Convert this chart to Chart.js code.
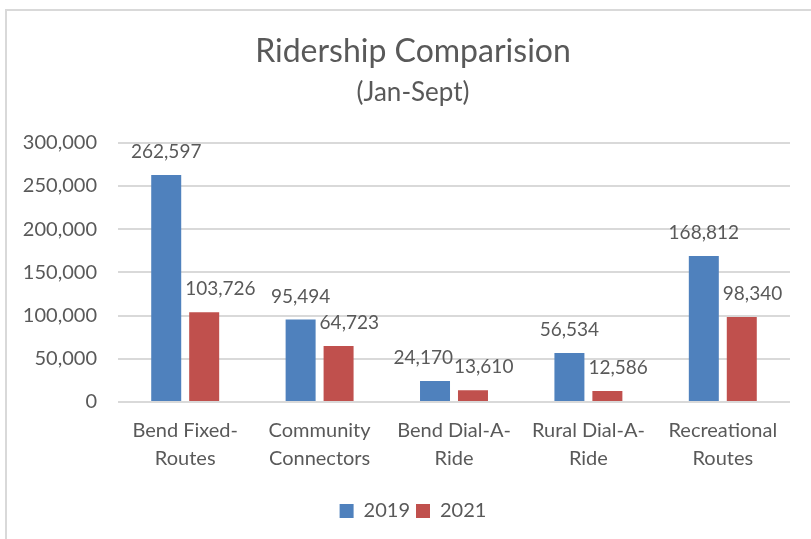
<!DOCTYPE html>
<html>
<head>
<meta charset="utf-8">
<script src="https://cdn.jsdelivr.net/npm/chart.js@4/dist/chart.umd.min.js"></script>
<style>
  html, body { margin: 0; padding: 0; background: #fff; }
  #wrap { position: relative; width: 811px; height: 539px; }
  #frame { position: absolute; left: 5px; top: 9px; right: -4px; bottom: -4px;
           border-top: 2px solid #d9d9d9; border-left: 2px solid #d9d9d9; }
  canvas { position: absolute; left: 0; top: 0; }
</style>
</head>
<body>
<div id="wrap">
  <div id="frame"></div>
  <canvas id="chart" width="811" height="539"></canvas>
</div>
<script>
const categories = [
  ['Bend Fixed-', 'Routes'],
  ['Community', 'Connectors'],
  ['Bend Dial-A-', 'Ride'],
  ['Rural Dial-A-', 'Ride'],
  ['Recreational', 'Routes']
];
const riders2019 = [262597, 95494, 24170, 56534, 168812];
const riders2021 = [103726, 64723, 13610, 12586, 98340];
const yTicks = [0, 50000, 100000, 150000, 200000, 250000, 300000];

const FONT = 'Lato, "Open Sans", sans-serif';
const TEXT = '#595959';

const fmt = (v) => v.toLocaleString('en-US');

// value labels: 2019 centred over the bar, 2021 starting at the bar's left edge,
// blue label pushed left when it would collide with the red one
const valueLabels = {
  id: 'valueLabels',
  afterDatasetsDraw(chart) {
    const ctx = chart.ctx;
    ctx.save();
    ctx.font = '19px ' + FONT;
    ctx.fillStyle = TEXT;
    ctx.textBaseline = 'middle';
    const blue = chart.getDatasetMeta(0).data;
    const red = chart.getDatasetMeta(1).data;
    const ds = chart.data.datasets;
    for (let i = 0; i < blue.length; i++) {
      const b = blue[i], r = red[i];
      const bt = fmt(ds[0].data[i]), rt = fmt(ds[1].data[i]);
      const bw = ctx.measureText(bt).width;
      const by = b.y - 23, ry = r.y - 23;
      const rLeft = r.x - r.width / 2 - 4;
      let bLeft = b.x - bw / 2;
      if (Math.abs(by - ry) < 20 && bLeft + bw > rLeft - 2) bLeft = rLeft - 1 - bw;
      ctx.textAlign = 'left';
      ctx.fillText(bt, bLeft, by);
      ctx.fillText(rt, rLeft, ry);
    }
    ctx.restore();
  }
};

// the Excel chart centres title and legend a bit right of the canvas middle
const shiftBlocks = {
  id: 'shiftBlocks',
  beforeDraw(chart) {
    chart.boxes.forEach(box => {
      if (box.isHorizontal && chart.scales[box.id] === box) return;
      if (box.position === 'top' || box.position === 'bottom') {
        box.left += 18;
        box.right += 18;
      }
    });
  }
};

new Chart(document.getElementById('chart'), {
  type: 'bar',
  data: {
    labels: categories,
    datasets: [
      { label: '2019', data: riders2019, backgroundColor: '#4f81bd' },
      { label: '2021', data: riders2021, backgroundColor: '#c0504d' }
    ]
  },
  options: {
    responsive: false,
    animation: false,
    categoryPercentage: 0.565,
    barPercentage: 0.79,
    layout: { padding: { left: 0, right: 21, top: 0, bottom: 8 } },
    plugins: {
      title: {
        display: true,
        text: 'Ridership Comparision',
        color: TEXT,
        font: { family: FONT, size: 32, weight: 'normal' },
        padding: { top: 32, bottom: 2 }
      },
      subtitle: {
        display: true,
        text: '(Jan-Sept)',
        color: TEXT,
        font: { family: FONT, size: 26, weight: 'normal' },
        padding: { top: 5, bottom: 34 }
      },
      legend: {
        position: 'bottom',
        labels: {
          color: TEXT,
          font: { family: FONT, size: 20 },
          boxWidth: 14,
          boxHeight: 14,
          padding: 6
        }
      },
      tooltip: { enabled: false }
    },
    scales: {
      x: {
        grid: { display: false },
        border: { display: false },
        ticks: {
          color: TEXT,
          font: { family: FONT, size: 20, lineHeight: 1.4 },
          padding: 7,
          maxRotation: 0,
          autoSkip: false
        },
        afterFit(s) { s.height = 93; }
      },
      y: {
        min: 0,
        max: 300000,
        afterBuildTicks(s) { s.ticks = yTicks.map(v => ({ value: v })); },
        grid: { color: '#d9d9d9', lineWidth: 2, drawTicks: false },
        border: { display: false },
        ticks: {
          color: TEXT,
          font: { family: FONT, size: 20 },
          padding: 21,
          callback: (v) => fmt(v)
        },
        afterFit(s) { s.width = 118; }
      }
    }
  },
  plugins: [valueLabels, shiftBlocks]
});
</script>
</body>
</html>
